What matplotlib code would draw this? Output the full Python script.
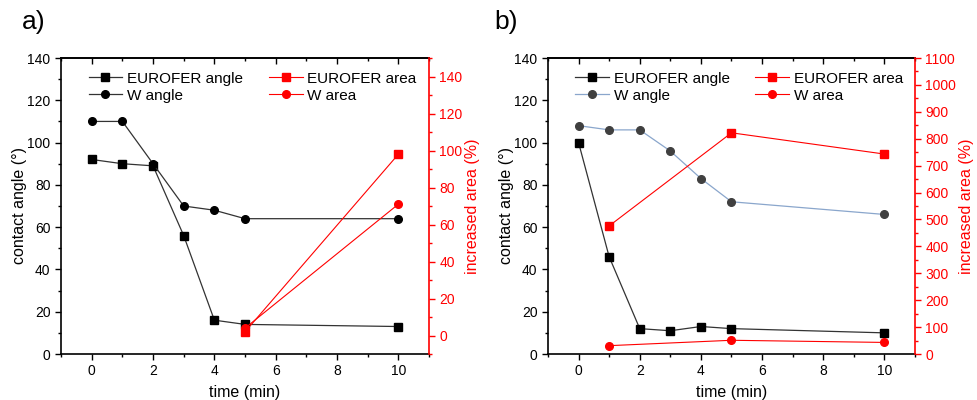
import numpy as np
import matplotlib.pyplot as plt
from matplotlib.ticker import MultipleLocator

plt.rcParams['font.family'] = ['Liberation Sans', 'DejaVu Sans']

# data, panel a
t_a = [0, 1, 2, 3, 4, 5, 10]
eu_angle_a = [92, 90, 89, 56, 16, 14, 13]
w_angle_a = [110, 110, 90, 70, 68, 64, 64]
t_area_a = [5, 10]
eu_area_a = [2, 98]
w_area_a = [4, 71]

# data, panel b
t_b = [0, 1, 2, 3, 4, 5, 10]
eu_angle_b = [100, 46, 12, 11, 13, 12, 10]
w_angle_b = [108, 106, 106, 96, 83, 72, 66]
t_area_b = [1, 5, 10]
eu_area_b = [476, 822, 743]
w_area_b = [31, 51, 43]

RED = '#ff0000'

fig = plt.figure(figsize=(9.78, 4.0), dpi=100)


def panel(rect, t, eu_ang, w_ang, t_area, eu_area, w_area, r_lim, r_major, r_minor,
          w_line, w_mark, tag, tag_x):
    ax = fig.add_axes(rect)
    ax.plot(t, eu_ang, color='#333333', lw=0.9, marker='s', ms=5.5,
            mfc='black', mec='black', label='EUROFER angle')
    ax.plot(t, w_ang, color=w_line, lw=0.9, marker='o', ms=5.5,
            mfc=w_mark, mec=w_mark, label='W angle')
    ax.set_xlim(-1, 11)
    ax.set_ylim(0, 140)
    ax.xaxis.set_major_locator(MultipleLocator(2))
    ax.xaxis.set_minor_locator(MultipleLocator(1))
    ax.yaxis.set_major_locator(MultipleLocator(20))
    ax.yaxis.set_minor_locator(MultipleLocator(10))
    ax.tick_params(which='both', direction='out', labelsize=10, width=1)
    ax.tick_params(which='major', length=4)
    ax.tick_params(which='minor', length=2.5)
    ax.set_xlabel('time (min)', fontsize=11.5, labelpad=5)
    ax.set_ylabel('contact angle (°)', fontsize=11.5, labelpad=0)
    ax.spines['right'].set_visible(False)
    for s in ax.spines.values():
        s.set_linewidth(1.2)

    # top mirror ticks pointing inside
    sec = ax.secondary_xaxis('top')
    sec.xaxis.set_major_locator(MultipleLocator(2))
    sec.xaxis.set_minor_locator(MultipleLocator(1))
    sec.tick_params(which='both', direction='in', labeltop=False, width=1)
    sec.tick_params(which='major', length=4)
    sec.tick_params(which='minor', length=2.5)
    sec.spines['top'].set_linewidth(1.2)

    ax2 = ax.twinx()
    ax2.plot(t_area, eu_area, color=RED, lw=0.8, marker='s', ms=5.5,
             label='EUROFER area')
    ax2.plot(t_area, w_area, color=RED, lw=0.8, marker='o', ms=5.5,
             label='W area')
    ax2.set_ylim(*r_lim)
    ax2.yaxis.set_major_locator(MultipleLocator(r_major))
    ax2.yaxis.set_minor_locator(MultipleLocator(r_minor))
    ax2.tick_params(which='both', direction='out', colors=RED, labelsize=10, width=1)
    ax2.tick_params(which='major', length=4)
    ax2.tick_params(which='minor', length=2.5)
    ax2.spines['right'].set_color(RED)
    ax2.spines['right'].set_linewidth(1.2)
    ax2.spines['left'].set_visible(False)
    ax2.spines['top'].set_visible(False)
    ax2.spines['bottom'].set_visible(False)
    ax2.set_ylabel('increased area (%)', color=RED, fontsize=11.5, labelpad=2)

    ax.legend(loc='upper left', bbox_to_anchor=(0.05, 0.985), frameon=False,
              fontsize=11, handlelength=2.2, handletextpad=0.3,
              borderaxespad=0.2, labelspacing=0.2)
    ax2.legend(loc='upper left', bbox_to_anchor=(0.54, 0.985), frameon=False,
               fontsize=11, handlelength=2.2, handletextpad=0.3,
               borderaxespad=0.2, labelspacing=0.2)

    fig.text(tag_x, 0.915, tag, fontsize=19, ha='left', va='bottom')
    return ax, ax2


panel([0.0624, 0.115, 0.3763, 0.74], t_a, eu_angle_a, w_angle_a, t_area_a,
      eu_area_a, w_area_a, (-10, 150), 20, 10, '#333333', 'black', 'a)', 0.022)
panel([0.5603, 0.115, 0.3753, 0.74], t_b, eu_angle_b, w_angle_b, t_area_b,
      eu_area_b, w_area_b, (0, 1100), 100, 50, '#8aa6cc', '#404040', 'b)', 0.505)

fig.savefig('out.png', dpi=100)
